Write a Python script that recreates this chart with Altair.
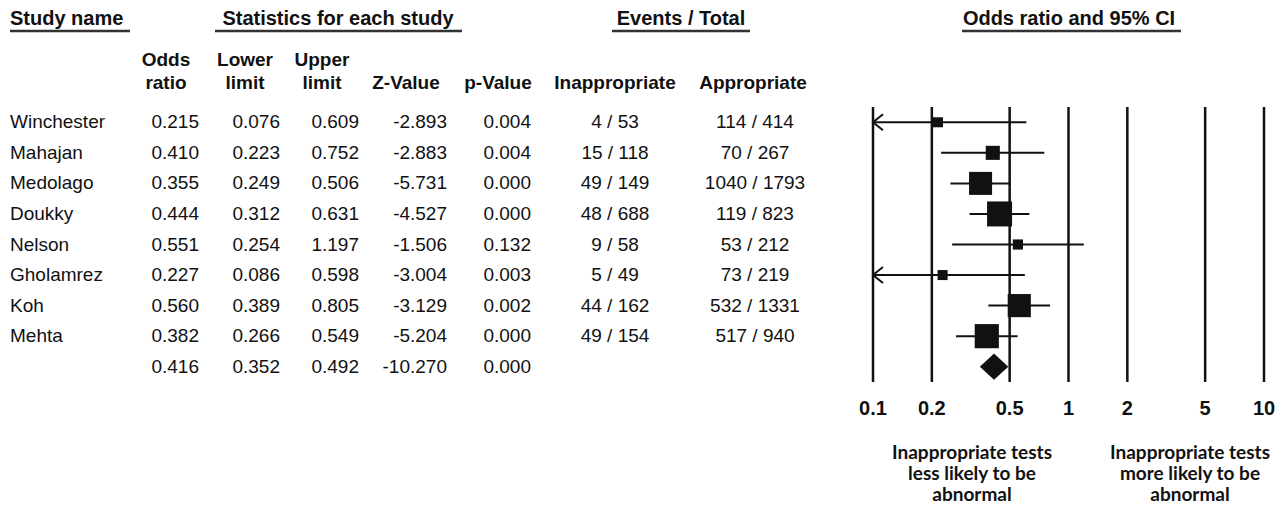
import altair as alt
import pandas as pd

# ---------------- data ----------------
studies = ["Winchester", "Mahajan", "Medolago", "Doukky", "Nelson", "Gholamrez", "Koh", "Mehta"]
odds_ratio = [0.215, 0.410, 0.355, 0.444, 0.551, 0.227, 0.560, 0.382]
lower_limit = [0.076, 0.223, 0.249, 0.312, 0.254, 0.086, 0.389, 0.266]
upper_limit = [0.609, 0.752, 0.506, 0.631, 1.197, 0.598, 0.805, 0.549]
z_value = [-2.893, -2.883, -5.731, -4.527, -1.506, -3.004, -3.129, -5.204]
p_value = [0.004, 0.004, 0.000, 0.000, 0.132, 0.003, 0.002, 0.000]
inap_events = [4, 15, 49, 48, 9, 5, 44, 49]
inap_total = [53, 118, 149, 688, 58, 49, 162, 154]
app_events = [114, 70, 1040, 119, 53, 73, 532, 517]
app_total = [414, 267, 1793, 823, 212, 219, 1331, 940]
# relative weights (%)
rel_weight = [3.6, 7.1, 19.0, 22.4, 3.7, 3.6, 19.2, 20.9]

summary_odds = 0.416
summary_lower = 0.352
summary_upper = 0.492
summary_z = -10.270
summary_p = 0.000

tick_values = [0.1, 0.2, 0.5, 1, 2, 5, 10]
tick_labels = ["0.1", "0.2", "0.5", "1", "2", "5", "10"]

# ---------------- layout ----------------
M = 8  # page margin
def px(x):
    return x - M

FONT = "Liberation Sans"
NOTE_FONT = "Lato"
BLACK = "#111111"
n = len(studies)
row_top, row_bot = -0.5, n + 0.5

yscale = alt.Scale(domain=[row_top, row_bot], range=[px(107), px(382)], nice=False, zero=False)
xscale = alt.Scale(type="log", domain=[tick_values[0], tick_values[-1]],
                   range=[px(873), px(1264)], clamp=True, nice=False)

def f3(v):
    return f"{v:.3f}"

table = pd.DataFrame({
    "row": list(range(n + 1)),
    "name": studies + [""],
    "odds": [f3(v) for v in odds_ratio + [summary_odds]],
    "lower": [f3(v) for v in lower_limit + [summary_lower]],
    "upper": [f3(v) for v in upper_limit + [summary_upper]],
    "z": [f3(v) for v in z_value + [summary_z]],
    "p": [f3(v) for v in p_value + [summary_p]],
    "inap": [f"{e} / {t}" for e, t in zip(inap_events, inap_total)] + [""],
    "app": [f"{e} / {t}" for e, t in zip(app_events, app_total)] + [""],
})

studies_df = pd.DataFrame({
    "row": list(range(n)),
    "odds": odds_ratio,
    "lower": lower_limit,
    "upper": upper_limit,
    "weight": rel_weight,
})

one = pd.DataFrame({"k": [0]})

layers = []

# table columns
col_specs = [
    ("name", "left", 10),
    ("odds", "right", 199),
    ("lower", "right", 280),
    ("upper", "right", 359),
    ("z", "right", 447),
    ("p", "right", 531),
    ("inap", "center", 615),
    ("app", "center", 755),
]
for field, align, xpos in col_specs:
    layers.append(
        alt.Chart(table).mark_text(align=align, baseline="middle", font=FONT,
                                   fontSize=19, color=BLACK).encode(
            x=alt.value(px(xpos)),
            y=alt.Y("row:Q", scale=yscale, axis=None),
            text=alt.Text(f"{field}:N"),
        )
    )

def label(text, x, y, align="center", size=19, bold=True, font=FONT, baseline="middle", line_height=None):
    kw = dict(text=text, align=align, baseline=baseline, font=font, fontSize=size,
              fontWeight="bold" if bold else "normal", color=BLACK)
    if line_height:
        kw["lineHeight"] = line_height
    return alt.Chart(one).mark_text(**kw).encode(x=alt.value(px(x)), y=alt.value(px(y)))

def underline(x1, x2, y):
    return alt.Chart(one).mark_rule(color="#333333", strokeWidth=2.5).encode(
        x=alt.value(px(x1)), x2=alt.value(px(x2)), y=alt.value(px(y)))

# titles
layers += [
    label("Study name", 10, 19, align="left", size=20),
    label("Statistics for each study", 338, 19, size=20),
    label("Events / Total", 681, 19, size=20),
    label("Odds ratio and 95%  CI", 1069, 19, size=20),
    underline(10, 130, 31),
    underline(215, 462, 31),
    underline(612, 750, 31),
    underline(962, 1181, 31),
]

# column headers
for lines, xc in [(["Odds", "ratio"], 166), (["Lower", "limit"], 245), (["Upper", "limit"], 322)]:
    layers.append(label(lines[0], xc, 60))
    layers.append(label(lines[1], xc, 83))
for t, xc in [("Z-Value", 406), ("p-Value", 498), ("Inappropriate", 615), ("Appropriate", 753)]:
    layers.append(label(t, xc, 83))

# forest plot reference lines
vlines = pd.DataFrame({"t": tick_values, "y1": [row_top] * len(tick_values), "y2": [row_bot] * len(tick_values)})
layers.append(
    alt.Chart(vlines).mark_rule(color=BLACK, strokeWidth=2.5).encode(
        x=alt.X("t:Q", scale=xscale, axis=None),
        y=alt.Y("y1:Q", scale=yscale, axis=None),
        y2="y2:Q",
    )
)

# confidence intervals
layers.append(
    alt.Chart(studies_df).mark_rule(color=BLACK, strokeWidth=2).encode(
        x=alt.X("lower:Q", scale=xscale, axis=None),
        x2="upper:Q",
        y=alt.Y("row:Q", scale=yscale, axis=None),
    )
)

# arrows for truncated lower limits
arrow_df = studies_df[studies_df["lower"] < tick_values[0]]
layers.append(
    alt.Chart(arrow_df).mark_point(shape="M1.25,-1L0,0L1.25,1", filled=False, size=256,
                                   strokeWidth=2, color=BLACK, opacity=1).encode(
        x=alt.X("lower:Q", scale=xscale, axis=None),
        y=alt.Y("row:Q", scale=yscale, axis=None),
    )
)

# study boxes
layers.append(
    alt.Chart(studies_df).mark_square(color=BLACK, opacity=1, filled=True).encode(
        x=alt.X("odds:Q", scale=xscale, axis=None),
        y=alt.Y("row:Q", scale=yscale, axis=None),
        size=alt.Size("weight:Q", scale=alt.Scale(domain=[0, 22.4], range=[0, 625]), legend=None),
    )
)

# summary diamond
h = 0.43
diamond = pd.DataFrame({
    "x": [summary_lower, summary_odds, summary_upper],
    "y1": [n, n - h, n],
    "y2": [n, n + h, n],
})
layers.append(
    alt.Chart(diamond).mark_area(color=BLACK, opacity=1).encode(
        x=alt.X("x:Q", scale=xscale, axis=None),
        y=alt.Y("y1:Q", scale=yscale, axis=None),
        y2="y2:Q",
    )
)

# tick labels
ticks_df = pd.DataFrame({"t": tick_values, "lab": tick_labels})
layers.append(
    alt.Chart(ticks_df).mark_text(font=FONT, fontSize=20, fontWeight="bold", color=BLACK,
                                  baseline="middle", align="center").encode(
        x=alt.X("t:Q", scale=xscale, axis=None),
        y=alt.value(px(409)),
        text="lab:N",
    )
)

# notes below the axis
layers.append(label(["Inappropriate tests", "less likely to be", "abnormal"], 972, 444,
                    size=19, font=NOTE_FONT, baseline="top", line_height=21))
layers.append(label(["Inappropriate tests", "more likely to be", "abnormal"], 1190, 444,
                    size=19, font=NOTE_FONT, baseline="top", line_height=21))

chart = alt.layer(*layers).properties(
    width=1272, height=496, padding=0, autosize=alt.AutoSizeParams(type="none")
).configure_view(stroke=None).resolve_scale(x="shared", y="shared")

chart.save("out.html", embed_options={"renderer": "svg", "actions": False})
